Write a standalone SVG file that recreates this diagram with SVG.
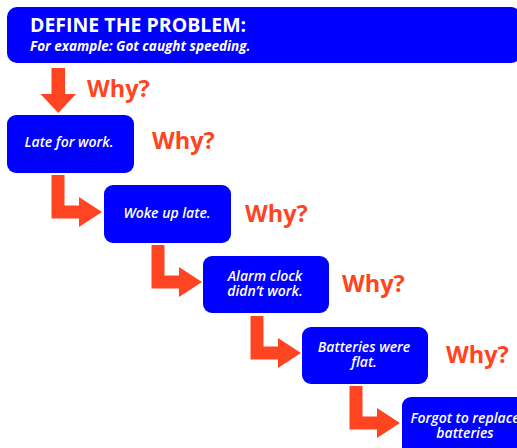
<svg xmlns="http://www.w3.org/2000/svg" width="517" height="448" viewBox="0 0 517 448">
<defs>
<style>
.box{fill:#0000FF;}
.t{fill:#FFFFFF;font-family:"Open Sans","Liberation Sans",sans-serif;font-weight:600;font-style:italic;font-size:14px;text-anchor:middle;}
.why{fill:#FF4422;font-family:"Open Sans","Liberation Sans",sans-serif;font-weight:bold;font-size:23.5px;}
.arr{fill:#FF4422;}
</style>
<path id="elbow" d="M0,0 H13 V30.5 H27.5 V22 L50.5,37 L27.5,52 V43.5 H0 Z"/>
</defs>
<rect width="517" height="448" fill="#FFFFFF"/>
<g id="problem">
<rect class="box" x="7" y="7" width="514" height="56" rx="10"/>
<text x="30" y="32" fill="#FFFFFF" font-family="Open Sans, Liberation Sans, sans-serif" font-weight="bold" font-size="19.5">DEFINE THE PROBLEM:</text>
<text x="30" y="51" fill="#FFFFFF" font-family="Open Sans, Liberation Sans, sans-serif" font-weight="bold" font-style="italic" font-size="13.5">For example: Got caught speeding.</text>
</g>
<g id="n1">
<rect class="box" x="7" y="115" width="127" height="58" rx="9"/>
<text class="t" x="69" y="147">Late for work.</text>
</g>
<g id="n2">
<rect class="box" x="104" y="185" width="127" height="58" rx="9"/>
<text class="t" x="167" y="218">Woke up late.</text>
</g>
<g id="n3">
<rect class="box" x="203" y="256" width="126" height="57" rx="9"/>
<text class="t"><tspan x="265" y="281">Alarm clock</tspan><tspan x="265" y="296">didn’t work.</tspan></text>
</g>
<g id="n4">
<rect class="box" x="302" y="327" width="126" height="57" rx="9"/>
<text class="t"><tspan x="364" y="352">Batteries were</tspan><tspan x="364" y="367">flat.</tspan></text>
</g>
<g id="n5">
<rect class="box" x="402" y="397" width="127" height="60" rx="9"/>
<text class="t"><tspan x="465" y="423">Forgot to replace</tspan><tspan x="465" y="438">batteries</tspan></text>
</g>
<g id="connectors">
<path class="arr" d="M51.5,68 H65 V94 H76 L58.3,113 L40.5,94 H51.5 Z"/>
<use href="#elbow" class="arr" x="51.5" y="175"/>
<use href="#elbow" class="arr" x="151.5" y="245"/>
<use href="#elbow" class="arr" x="250.5" y="316"/>
<use href="#elbow" class="arr" x="349.5" y="386"/>
</g>
<g id="labels">
<text class="why" x="87" y="97">Why?</text>
<text class="why" x="152" y="149">Why?</text>
<text class="why" x="245" y="222">Why?</text>
<text class="why" x="342" y="292">Why?</text>
<text class="why" x="446" y="363">Why?</text>
</g>
</svg>
